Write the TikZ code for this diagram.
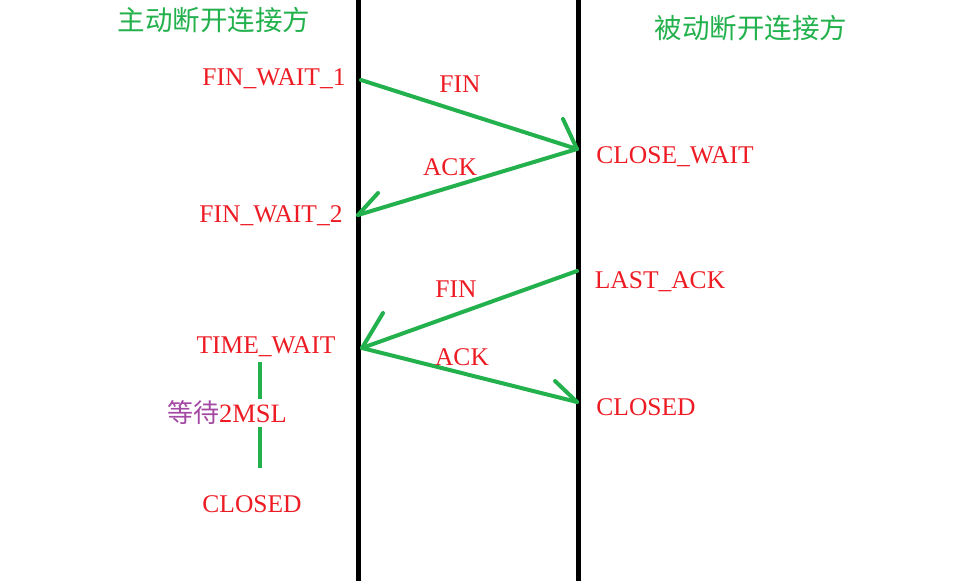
\documentclass[tikz,border=0pt]{standalone}
\usepackage{fontspec}
\setmainfont{Liberation Serif}
\newfontfamily\cjkfont{Noto Sans CJK SC}
\usetikzlibrary{calc}
\definecolor{paintred}{RGB}{237,28,36}
\definecolor{paintgreen}{RGB}{34,177,76}
\definecolor{paintpurple}{RGB}{163,73,164}
\tikzset{
    lifeline/.style={line width=5pt,black},
    msgline/.style={line width=4pt,paintgreen,line cap=round},
    waitline/.style={line width=4pt,paintgreen},
    statelabel/.style={text=paintred,font=\fontsize{25.5}{28}\selectfont,inner sep=1pt},
    msglabel/.style={text=paintred,font=\fontsize{25.5}{28}\selectfont,inner sep=1pt},
    sidetitle/.style={text=paintgreen,font=\cjkfont\fontsize{27.5}{30}\selectfont,inner sep=0pt}
}

\begin{document}
\begin{tikzpicture}[x=1pt,y=-1pt]
    \useasboundingbox (0,0) rectangle (967,581);
    % Lifelines
    \draw[lifeline] (358,0) -- (358,581);
    \draw[lifeline] (578,0) -- (578,581);
    % Titles
    \node[sidetitle] (active) at (214,20) {主动断开连接方};
    \node[sidetitle] (passive) at (751,28) {被动断开连接方};
    % States
    \node[statelabel] (fwone) at (274,79) {FIN\_WAIT\_1};
    \node[statelabel] (closewait) at (675,157) {CLOSE\_WAIT};
    \node[statelabel] (fwtwo) at (271,216) {FIN\_WAIT\_2};
    \node[statelabel] (lastack) at (660,282) {LAST\_ACK};
    \node[statelabel] (timewait) at (266,347) {TIME\_WAIT};
    \node[statelabel] (closedr) at (646,407) {CLOSED};
    \node[statelabel] (closedl) at (252,504) {CLOSED};
    % Message end points
    \coordinate (pfwone) at (361,80);
    \coordinate (pcw) at (577,149);
    \coordinate (pfwtwo) at (358,215);
    \coordinate (pla) at (577,271);
    \coordinate (ptw) at (362,348);
    \coordinate (pcl) at (577,402);
    % Messages
    \draw[msgline] (pfwone) -- (pcw);
    \draw[msgline] (pcw) -- ++(-14,-30);
    \node[msglabel] (finone) at (460,84) {FIN};
    \draw[msgline] (pcw) -- (pfwtwo);
    \draw[msgline] (pfwtwo) -- ++(20,-22);
    \node[msglabel] (ackone) at (450,167) {ACK};
    \draw[msgline] (pla) -- (ptw);
    \draw[msgline] (ptw) -- ++(21,-35);
    \node[msglabel] (fintwo) at (456,289) {FIN};
    \draw[msgline] (ptw) -- (pcl);
    \draw[msgline] (pcl) -- ++(-22,-21);
    \node[msglabel] (acktwo) at (462,357) {ACK};
    % Wait 2MSL
    \coordinate (wtop) at (260,362);
    \coordinate (wbot) at (260,468);
    \draw[waitline] (wtop) -- (wbot);
    \node[fill=white,inner sep=2pt,font=\fontsize{26.5}{28}\selectfont] (wait) at (227,413)
        {\textcolor{paintpurple}{\cjkfont\fontsize{26}{28}\selectfont 等待}\textcolor{paintred}{2MSL}};
\end{tikzpicture}
\end{document}
